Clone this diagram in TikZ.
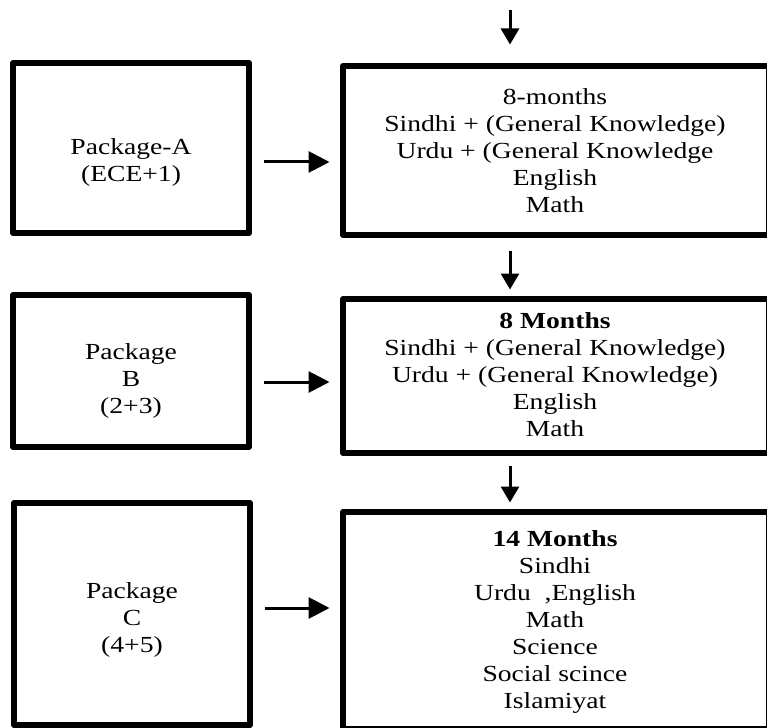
\documentclass[tikz,border=0pt]{standalone}
\usepackage{fontspec}
\setmainfont{Liberation Serif}[FakeStretch=1.2]
\usetikzlibrary{arrows.meta}
\begin{document}
\begin{tikzpicture}[x=1pt, y=-1pt, line join=round,
  box/.style={draw, line width=6pt, inner sep=0pt},
  lbox/.style={box, minimum width=236pt},
  rbox/.style={box, minimum width=426pt},
  txt/.style={align=center, inner sep=0pt, font=\fontsize{23}{27}\selectfont},
  harrow/.style={-{Triangle[length=21pt, width=21pt]}, line width=3pt},
  varrow/.style={-{Triangle[length=16pt, width=18pt]}, line width=3pt}]
\useasboundingbox (0,0) rectangle (767,727);
%Cot trai: cac goi
\node[lbox, minimum height=170pt] (boxA) at (131,148) {};
\node[txt] (pkgA) at (131,162) {Package-A\\(ECE+1)};
\node[lbox, minimum height=152pt] (boxB) at (131,371) {};
\node[txt] (pkgB) at (131,381) {Package\\B\\(2+3)};
\node[lbox, minimum height=222pt] (boxC) at (132,614) {};
\node[txt] (pkgC) at (132,620) {Package\\C\\(4+5)};
%Cot phai: cac mon hoc
\node[rbox, minimum height=169pt] (boxOne) at (556,150.5) {};
\node[txt] (subOne) at (555,151) {8-months\\Sindhi + (General Knowledge)\\Urdu + (General Knowledge\\English\\Math};
\node[rbox, minimum height=154pt] (boxTwo) at (556,376) {};
\node[txt] (subTwo) at (555,375) {\textbf{8 Months}\\Sindhi + (General Knowledge)\\Urdu + (General Knowledge)\\English\\Math};
\node[rbox, minimum height=217pt] (boxThree) at (556,620.5) {};
\node[txt] (subThree) at (555,622) {\textbf{14 Months}\\Sindhi\\Urdu~~,English\\Math\\Science\\Social scince\\Islamiyat};
%Mui ten doc
\coordinate (start) at (510,10);
\draw[varrow] (start) -- ([yshift=18.5pt]boxOne.north -| start);
\draw[varrow] ([yshift=-12.5pt]boxOne.south -| start) -- ([yshift=6.5pt]boxTwo.north -| start);
\draw[varrow] ([yshift=-9.5pt]boxTwo.south -| start) -- ([yshift=6.5pt]boxThree.north -| start);
%Mui ten ngang
\draw[harrow] ([xshift=11.5pt]boxA.east |- pkgA) -- ([xshift=-10.5pt]boxOne.west |- pkgA);
\draw[harrow] ([xshift=11.5pt, yshift=-1pt]boxB.east |- pkgB) -- ([xshift=-10.5pt, yshift=-1pt]boxTwo.west |- pkgB);
\draw[harrow] ([xshift=11.5pt, yshift=12pt]boxC.east |- pkgC) -- ([xshift=-10.5pt, yshift=12pt]boxThree.west |- pkgC);
\end{tikzpicture}
\end{document}
